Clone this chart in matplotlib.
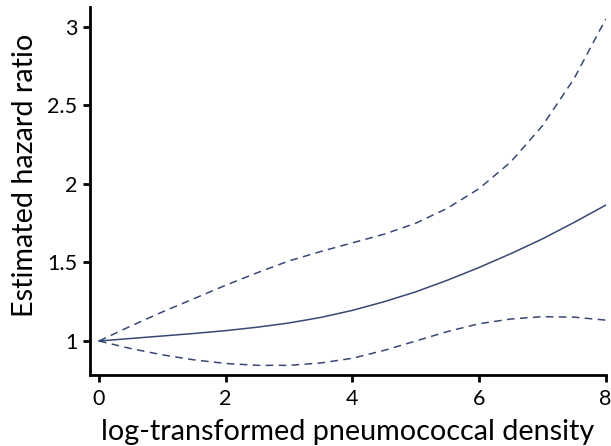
import matplotlib
matplotlib.use("Agg")
import matplotlib.pyplot as plt

x = [0, 0.5, 1, 1.5, 2, 2.5, 3, 3.5, 4, 4.5, 5, 5.5, 6, 6.5, 7, 7.5, 8]
hr = [1.000, 1.016, 1.032, 1.048, 1.066, 1.088, 1.115, 1.150, 1.195, 1.250, 1.313, 1.387, 1.468, 1.556, 1.650, 1.755, 1.865]
upper = [1.000, 1.095, 1.185, 1.270, 1.355, 1.435, 1.510, 1.570, 1.625, 1.680, 1.750, 1.845, 1.970, 2.140, 2.370, 2.670, 3.050]
lower = [1.000, 0.952, 0.912, 0.880, 0.857, 0.845, 0.845, 0.860, 0.890, 0.940, 1.000, 1.060, 1.110, 1.140, 1.155, 1.152, 1.133]
xticks = [0, 2, 4, 6, 8]
yticks = [1, 1.5, 2, 2.5, 3]
yticklabels = ["1", "1.5", "2", "2.5", "3"]

plt.rcParams['font.family'] = ['Lato', 'DejaVu Sans']
color = "#364873"

fig = plt.figure(figsize=(6.11, 4.46), dpi=100)
ax = fig.add_axes([0.1473, 0.159, 0.844, 0.8253])
ax.plot(x, hr, color=color, lw=1.1)
ax.plot(x, upper, color=color, lw=1.1, dashes=(5, 3.5))
ax.plot(x, lower, color=color, lw=1.1, dashes=(5, 3.5))

ax.set_xlim(-0.142, 8)
ax.set_ylim(0.783, 3.127)
ax.set_xticks(xticks)
ax.set_yticks(yticks)
ax.set_yticklabels(yticklabels)
for s in ["top", "right"]:
    ax.spines[s].set_visible(False)
for s in ["left", "bottom"]:
    ax.spines[s].set_linewidth(2)
ax.tick_params(axis="both", width=2, length=5, labelsize=15.5)
ax.tick_params(axis="x", pad=5)
ax.tick_params(axis="y", pad=4)
ax.set_xlabel("log-transformed pneumococcal density", fontsize=20.7, labelpad=7)
ax.set_ylabel("Estimated hazard ratio", fontsize=20.7, labelpad=7)
ax.yaxis.label.set_y(0.543)

fig.savefig("out.png", dpi=100)
